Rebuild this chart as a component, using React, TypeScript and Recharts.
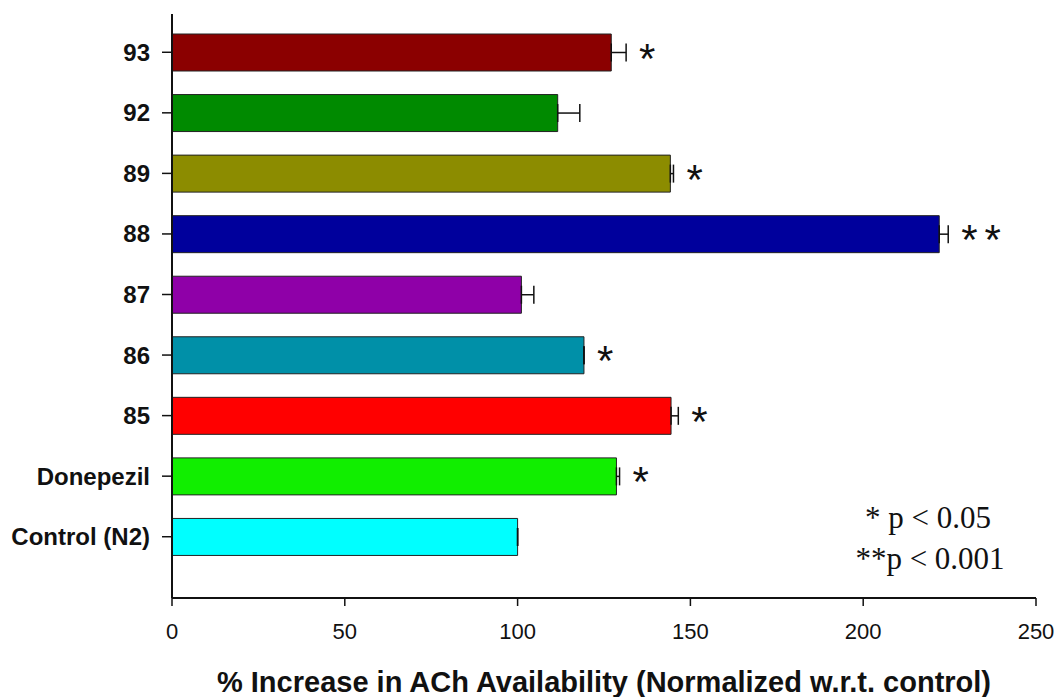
import React from "react";
import {
  BarChart,
  Bar,
  XAxis,
  YAxis,
  Cell,
  ErrorBar,
  LabelList,
} from "recharts";

const categories = [
  "93",
  "92",
  "89",
  "88",
  "87",
  "86",
  "85",
  "Donepezil",
  "Control (N2)",
];
const values = [127.1, 111.6, 144.2, 222.0, 101.1, 119.2, 144.4, 128.6, 100];
const errors = [4.3, 6.4, 0.9, 2.6, 3.6, 0, 2.1, 0.9, 0];
const significance = ["*", "", "*", "**", "", "*", "*", "*", ""];
const colors = [
  "#8b0000",
  "#008a00",
  "#8c8c00",
  "#00009c",
  "#8f00a8",
  "#0090a8",
  "#ff0000",
  "#11ee00",
  "#00ffff",
];
const xTicks = [0, 50, 100, 150, 200, 250];

const data = categories.map((name, i) => ({
  name,
  value: values[i],
  err: [0, errors[i]],
  sig: significance[i],
}));

const sansFont = '"Liberation Sans", Arial, sans-serif';
const serifFont = '"Liberation Serif", "Times New Roman", serif';

function StarLabel(props: any) {
  const { x, y, width, height, value, index } = props;
  if (!value) return null;
  const pxPerUnit = width / values[index];
  const errEnd = x + width + errors[index] * pxPerUnit;
  return (
    <text
      x={errEnd + 13}
      y={y + height / 2 + 20}
      fontFamily={sansFont}
      fontSize={42}
      letterSpacing={value.length > 1 ? 7 : 0}
      fill="#111"
    >
      {value}
    </text>
  );
}

const pStyle: React.CSSProperties = {
  position: "absolute",
  left: 810,
  width: 236,
  textAlign: "center",
  fontFamily: serifFont,
  fontSize: 31,
  lineHeight: 1,
  whiteSpace: "pre",
  color: "#111",
};

export default function App() {
  return (
    <div style={{ position: "absolute", left: 0, top: 0, width: 1057, height: 697 }}>
      <BarChart
        width={1057}
        height={697}
        data={data}
        layout="vertical"
        margin={{ top: 14, right: 21, bottom: 0, left: 0 }}
      >
        <XAxis
          type="number"
          domain={[0, 250]}
          ticks={xTicks}
          interval={0}
          height={99}
          tickSize={8}
          tickMargin={17}
          axisLine={{ stroke: "#111", strokeWidth: 2 }}
          tickLine={{ stroke: "#111", strokeWidth: 1.5 }}
          tick={{ fill: "#111", fontSize: 22, fontFamily: sansFont }}
          label={{
            value: "% Increase in ACh Availability (Normalized w.r.t. control)",
            position: "insideBottom",
            offset: 5,
            fill: "#111",
            fontSize: 29,
            fontWeight: "bold",
            fontFamily: sansFont,
          }}
        />
        <YAxis
          type="category"
          dataKey="name"
          width={172}
          tickSize={10}
          tickMargin={12}
          interval={0}
          padding={{ top: 8, bottom: 31 }}
          axisLine={{ stroke: "#111", strokeWidth: 2 }}
          tickLine={{ stroke: "#111", strokeWidth: 1.5 }}
          tick={{ fill: "#111", fontSize: 24, fontWeight: "bold", fontFamily: sansFont }}
        />
        <Bar
          dataKey="value"
          barSize={37}
          stroke="#222"
          strokeWidth={1}
          isAnimationActive={false}
        >
          {data.map((d, i) => (
            <Cell key={d.name} fill={colors[i]} />
          ))}
          <ErrorBar
            dataKey="err"
            direction="x"
            width={9}
            stroke="#111"
            strokeWidth={1.5}
            isAnimationActive={false}
          />
          <LabelList dataKey="sig" content={StarLabel} />
        </Bar>
      </BarChart>
      <div style={{ ...pStyle, top: 502 }}>{"* p < 0.05"}</div>
      <div style={{ ...pStyle, top: 543, left: 812 }}>{"**p < 0.001"}</div>
    </div>
  );
}
